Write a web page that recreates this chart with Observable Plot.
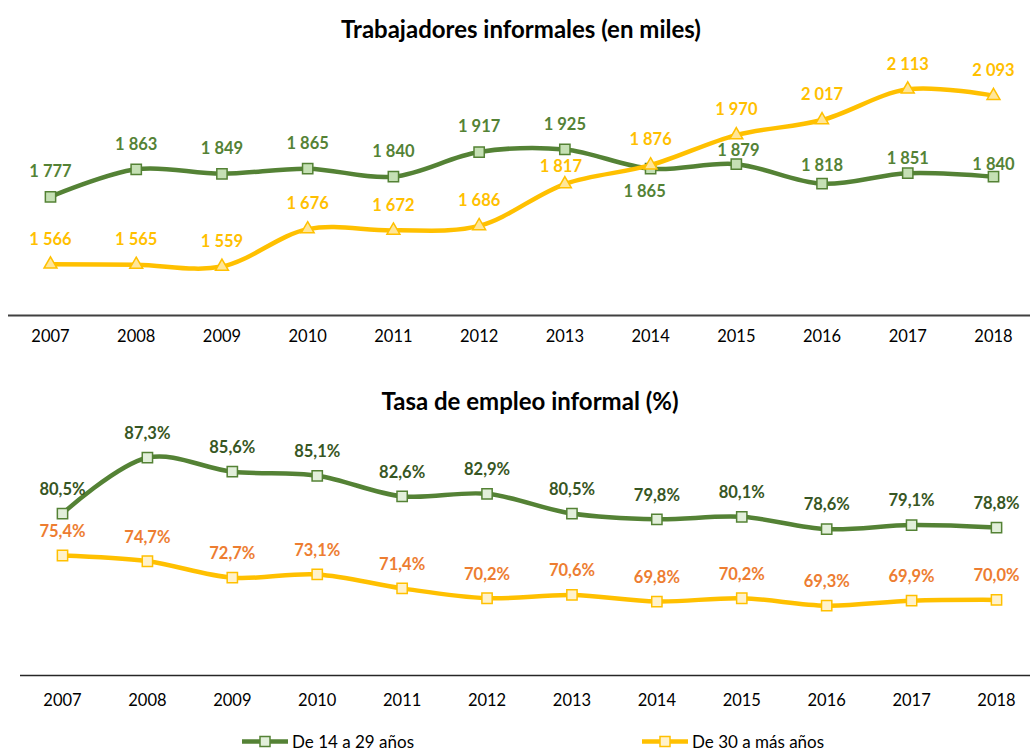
<!DOCTYPE html>
<html>
<head>
<meta charset="utf-8">
<script src="https://cdn.jsdelivr.net/npm/d3@7"></script>
<script src="https://cdn.jsdelivr.net/npm/@observablehq/plot@0.6"></script>
<style>
  body { margin: 0; background: #fff; font-family: Lato, "Open Sans", sans-serif; }
  #wrap { position: relative; width: 1030px; height: 751px; overflow: hidden; background: #fff; }
  .title { position: absolute; transform: translate(-50%, -50%); white-space: nowrap; font-weight: bold; font-size: 24px; color: #000; }
  .plot { position: absolute; left: 0; }
  .leg { position: absolute; display: flex; align-items: center; font-size: 17px; color: #000; transform: translateY(-50%); white-space: nowrap; }
  .leg svg { margin-right: 4px; }
</style>
</head>
<body>
<div id="wrap">
  <div class="title" style="left:521px; top:28px;">Trabajadores informales (en miles)</div>
  <div class="plot" id="top" style="top:45px;"></div>
  <div class="title" style="left:530px; top:400px;">Tasa de empleo informal (%)</div>
  <div class="plot" id="bottom" style="top:415px;"></div>
</div>
<script>
// ---- data ----
const years = [2007, 2008, 2009, 2010, 2011, 2012, 2013, 2014, 2015, 2016, 2017, 2018];
const seriesNames = ["De 14 a 29 años", "De 30 a más años"];
const workersYoung = [1777, 1863, 1849, 1865, 1840, 1917, 1925, 1865, 1879, 1818, 1851, 1840];
const workersOld   = [1566, 1565, 1559, 1676, 1672, 1686, 1817, 1876, 1970, 2017, 2113, 2093];
const rateYoung = [80.5, 87.3, 85.6, 85.1, 82.6, 82.9, 80.5, 79.8, 80.1, 78.6, 79.1, 78.8];
const rateOld   = [75.4, 74.7, 72.7, 73.1, 71.4, 70.2, 70.6, 69.8, 70.2, 69.3, 69.9, 70.0];

const rows = vals => years.map((year, i) => ({year, value: vals[i]}));
const fmtMiles = v => String(v).replace(/\B(?=(\d{3})+(?!\d))/g, " ");
const fmtPct = v => v.toFixed(1).replace(".", ",") + "%";

const GREEN = "#548235", YELLOW = "#ffc000";

function labelMarks(data, offsetFn, fmt, fill, fontSize) {
  const groups = d3.group(data, d => offsetFn(d.year).join(","));
  return Array.from(groups, ([key, g]) => {
    const [dx, dy] = key.split(",").map(Number);
    return Plot.text(g, {x: "year", y: "value", text: d => fmt(d.value), dx, dy,
      fill, fontSize, fontWeight: "bold"});
  });
}

// ---- top chart ----
const tYoung = rows(workersYoung), tOld = rows(workersOld);
const topYoungOff = y => ({2014: [-6, 23], 2015: [2, -13], 2016: [0, -18], 2017: [0, -14], 2018: [0, -12]}[y] || [0, -25]);
const topOldOff = y => ({2013: [-4, -17]}[y] || [0, -25]);

const topPlot = Plot.plot({
  width: 1030, height: 310,
  marginLeft: 8, marginRight: 0, marginTop: 0, marginBottom: 40,
  style: {fontFamily: "Lato, 'Open Sans', sans-serif", fontSize: "16px", background: "transparent", overflow: "visible"},
  x: {type: "linear", domain: [2007, 2018], range: [50, 993]},
  y: {domain: [1406, 2200], range: [270, 16], axis: null},
  marks: [
    Plot.ruleY([1406], {stroke: "#404040", strokeWidth: 2}),
    Plot.axisX(years, {tickSize: 0, tickPadding: 15, tickFormat: d => String(d), fontSize: 16.5, fill: "#000", label: null}),
    Plot.line(tYoung, {x: "year", y: "value", curve: "catmull-rom", stroke: GREEN, strokeWidth: 4.5}),
    Plot.dot(tYoung, {x: "year", y: "value", symbol: "square", r: 5.8, fill: "#c5e0b4", stroke: GREEN, strokeWidth: 1.5}),
    Plot.line(tOld, {x: "year", y: "value", curve: "catmull-rom", stroke: YELLOW, strokeWidth: 4.5}),
    Plot.dot(tOld, {x: "year", y: "value", symbol: "triangle", r: 4.8, fill: "#ffe699", stroke: YELLOW, strokeWidth: 1.5}),
    ...labelMarks(tYoung, topYoungOff, fmtMiles, GREEN, 16.5),
    ...labelMarks(tOld, topOldOff, fmtMiles, YELLOW, 16.5)
  ]
});
document.getElementById("top").append(topPlot);

// ---- bottom chart ----
const bYoung = rows(rateYoung), bOld = rows(rateOld);
const botOff = y => [0, -24];

const bottomPlot = Plot.plot({
  width: 1030, height: 300,
  marginLeft: 20, marginRight: 0, marginTop: 0, marginBottom: 40,
  style: {fontFamily: "Lato, 'Open Sans', sans-serif", fontSize: "16px", background: "transparent", overflow: "visible"},
  x: {type: "linear", domain: [2007, 2018], range: [62, 996]},
  y: {domain: [60.8, 90], range: [260, 20], axis: null},
  marks: [
    Plot.ruleY([60.8], {stroke: "#262626", strokeWidth: 1.5}),
    Plot.axisX(years, {tickSize: 0, tickPadding: 19, tickFormat: d => String(d), fontSize: 16.5, fill: "#000", label: null}),
    Plot.line(bYoung, {x: "year", y: "value", curve: "catmull-rom", stroke: GREEN, strokeWidth: 4.5}),
    Plot.dot(bYoung, {x: "year", y: "value", symbol: "square", r: 5.8, fill: "#e2efda", stroke: GREEN, strokeWidth: 1.5}),
    Plot.line(bOld, {x: "year", y: "value", curve: "catmull-rom", stroke: YELLOW, strokeWidth: 4.5}),
    Plot.dot(bOld, {x: "year", y: "value", symbol: "square", r: 5.8, fill: "#fff2cc", stroke: YELLOW, strokeWidth: 1.5}),
    ...labelMarks(bYoung, botOff, fmtPct, "#375623", 16.5),
    ...labelMarks(bOld, botOff, fmtPct, "#ed7d31", 16.5)
  ]
});
document.getElementById("bottom").append(bottomPlot);

// ---- legend ----
const legendItems = [
  {name: seriesNames[0], stroke: GREEN, fill: "#e2efda", left: 242},
  {name: seriesNames[1], stroke: YELLOW, fill: "#fff2cc", left: 642}
];
const wrap = d3.select("#wrap");
for (const it of legendItems) {
  const div = wrap.append("div").attr("class", "leg").style("left", it.left + "px").style("top", "741px");
  const svg = div.append("svg").attr("width", 46).attr("height", 14);
  svg.append("line").attr("x1", 0).attr("x2", 46).attr("y1", 7).attr("y2", 7)
    .attr("stroke", it.stroke).attr("stroke-width", 4.5);
  svg.append("rect").attr("x", 18).attr("y", 2).attr("width", 10).attr("height", 10)
    .attr("fill", it.fill).attr("stroke", it.stroke).attr("stroke-width", 1.5);
  div.append("span").text(it.name);
}
</script>
</body>
</html>
